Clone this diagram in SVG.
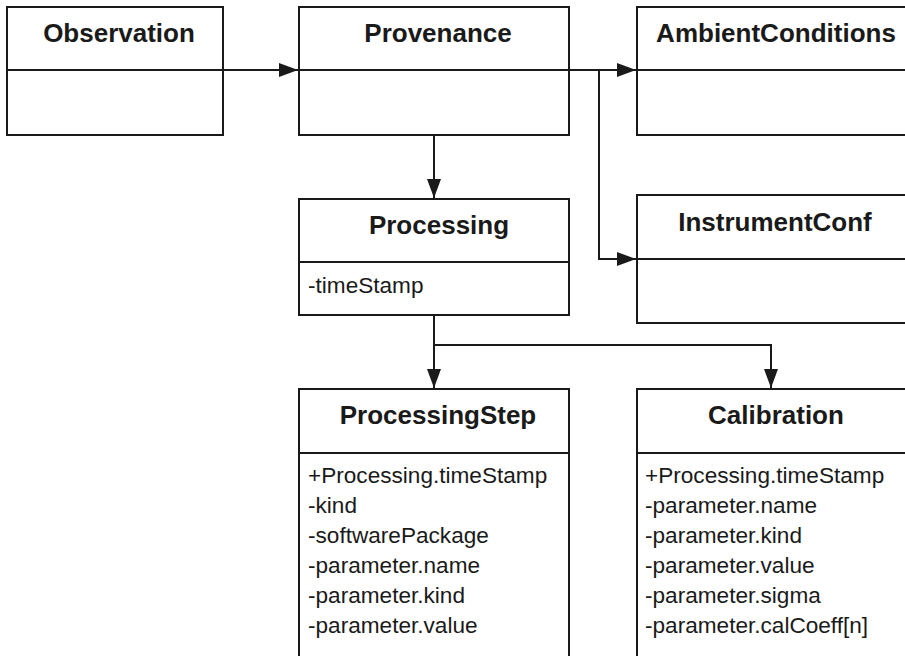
<svg xmlns="http://www.w3.org/2000/svg" width="905" height="656" viewBox="0 0 905 656">
  <style>
    .box { fill: #ffffff; stroke: #1a1a1a; stroke-width: 2; }
    .sep { stroke: #1a1a1a; stroke-width: 2; }
    .title { font-family: "Liberation Sans", Arial, sans-serif; font-weight: bold; font-size: 26px; fill: #1a1a1a; text-anchor: middle; }
    .attr { font-family: "Liberation Sans", Arial, sans-serif; font-size: 22.6px; fill: #1a1a1a; }
    .link { fill: none; stroke: #1a1a1a; stroke-width: 2; }
  </style>
  <defs>
    <marker id="arrow" markerUnits="userSpaceOnUse" markerWidth="20" markerHeight="14" refX="19" refY="7" orient="auto">
      <path d="M0,0 L19,7 L0,14 Z" fill="#1a1a1a"/>
    </marker>
  </defs>
  <rect width="905" height="656" fill="#ffffff"/>

  <!-- connectors -->
  <g id="connectors">
    <path class="link" d="M223,70 H298" marker-end="url(#arrow)"/>
    <path class="link" d="M569,70 H636" marker-end="url(#arrow)"/>
    <path class="link" d="M599,70 V259 H636" marker-end="url(#arrow)"/>
    <path class="link" d="M434,135 V198" marker-end="url(#arrow)"/>
    <path class="link" d="M434,315 V388" marker-end="url(#arrow)"/>
    <path class="link" d="M434,345 H771 V388" marker-end="url(#arrow)"/>
  </g>

  <g id="observation">
    <rect class="box" x="7" y="7" width="216" height="128"/>
    <line class="sep" x1="7" y1="70" x2="223" y2="70"/>
    <text class="title" x="119" y="42">Observation</text>
  </g>

  <g id="provenance">
    <rect class="box" x="299" y="7" width="270" height="128"/>
    <line class="sep" x1="299" y1="70" x2="569" y2="70"/>
    <text class="title" x="438" y="42">Provenance</text>
  </g>

  <g id="ambientConditions">
    <rect class="box" x="637" y="7" width="270" height="128"/>
    <line class="sep" x1="637" y1="70" x2="907" y2="70"/>
    <text class="title" x="776" y="42">AmbientConditions</text>
  </g>

  <g id="processing">
    <rect class="box" x="299" y="199" width="270" height="116"/>
    <line class="sep" x1="299" y1="262" x2="569" y2="262"/>
    <text class="title" x="439" y="234">Processing</text>
    <text class="attr" x="308" y="293">-timeStamp</text>
  </g>

  <g id="instrumentConf">
    <rect class="box" x="637" y="195" width="270" height="128"/>
    <line class="sep" x1="637" y1="259" x2="907" y2="259"/>
    <text class="title" x="775" y="231">InstrumentConf</text>
  </g>

  <g id="processingStep">
    <rect class="box" x="299" y="389" width="270" height="280"/>
    <line class="sep" x1="299" y1="453" x2="569" y2="453"/>
    <text class="title" x="438" y="424">ProcessingStep</text>
    <text class="attr" x="308" y="483">+Processing.timeStamp</text>
    <text class="attr" x="308" y="513">-kind</text>
    <text class="attr" x="308" y="543">-softwarePackage</text>
    <text class="attr" x="308" y="573">-parameter.name</text>
    <text class="attr" x="308" y="603">-parameter.kind</text>
    <text class="attr" x="308" y="633">-parameter.value</text>
  </g>

  <g id="calibration">
    <rect class="box" x="637" y="389" width="270" height="280"/>
    <line class="sep" x1="637" y1="453" x2="907" y2="453"/>
    <text class="title" x="776" y="424">Calibration</text>
    <text class="attr" x="645" y="483">+Processing.timeStamp</text>
    <text class="attr" x="645" y="513">-parameter.name</text>
    <text class="attr" x="645" y="543">-parameter.kind</text>
    <text class="attr" x="645" y="573">-parameter.value</text>
    <text class="attr" x="645" y="603">-parameter.sigma</text>
    <text class="attr" x="645" y="633">-parameter.calCoeff[n]</text>
  </g>
</svg>
